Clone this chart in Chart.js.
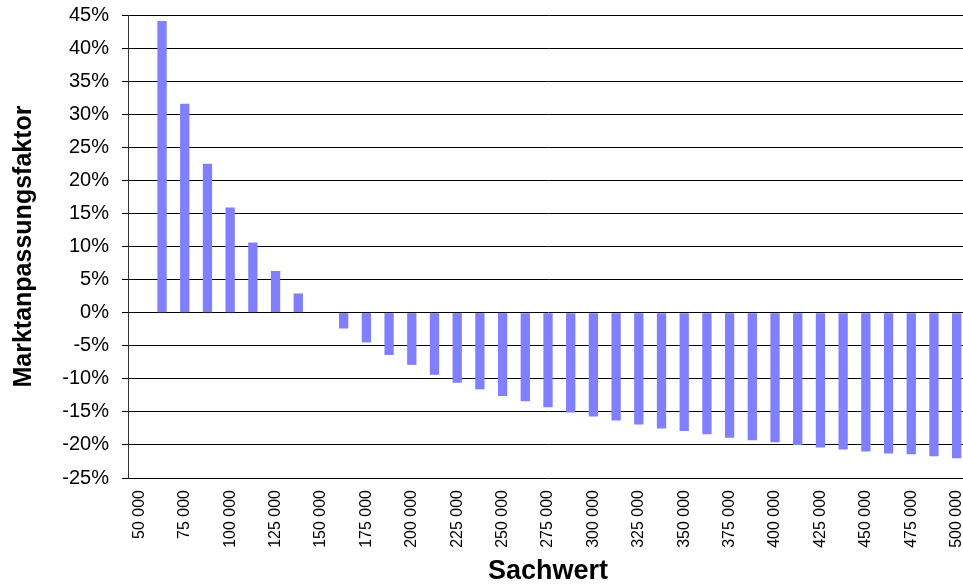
<!DOCTYPE html>
<html>
<head>
<meta charset="utf-8">
<script src="https://cdn.jsdelivr.net/npm/chart.js@4/dist/chart.umd.min.js"></script>
<style>
  html, body { margin: 0; padding: 0; background: #ffffff; overflow: hidden; width: 963px; height: 587px; }
  #wrap { width: 968px; height: 587px; position: relative; }
</style>
</head>
<body>
<div id="wrap"><canvas id="c" width="968" height="587"></canvas></div>
<script>
// Sachwert categories (every 12 500)
const categories = [
  '50 000','62 500','75 000','87 500','100 000','112 500','125 000','137 500','150 000',
  '162 500','175 000','187 500','200 000','212 500','225 000','237 500','250 000',
  '262 500','275 000','287 500','300 000','312 500','325 000','337 500','350 000',
  '362 500','375 000','387 500','400 000','412 500','425 000','437 500','450 000',
  '462 500','475 000','487 500','500 000'
];
// Marktanpassungsfaktor in percent
const faktor = [
  null, 44.1, 31.6, 22.5, 15.9, 10.6, 6.3, 2.9, 0,
  -2.4, -4.5, -6.4, -7.9, -9.4, -10.6, -11.6, -12.6,
  -13.4, -14.3, -15.1, -15.7, -16.3, -16.9, -17.5, -17.9,
  -18.4, -18.9, -19.3, -19.6, -20.0, -20.4, -20.7, -21.0,
  -21.3, -21.4, -21.7, -22.0
];
// Tick labels shown on the category axis
const tickLabels = [
  '50 000','75 000','100 000','125 000','150 000','175 000','200 000','225 000','250 000',
  '275 000','300 000','325 000','350 000','375 000','400 000','425 000','450 000','475 000','500 000'
];
const yMin = -25, yMax = 45, yStep = 5;

new Chart(document.getElementById('c'), {
  type: 'bar',
  data: {
    labels: categories,
    datasets: [{
      data: faktor,
      backgroundColor: '#8080FF',
      borderWidth: 0,
      categoryPercentage: 1.0,
      barPercentage: 0.41
    }]
  },
  options: {
    responsive: false,
    animation: false,
    layout: { padding: { top: 15, right: 0, bottom: 0, left: 0 } },
    plugins: { legend: { display: false }, tooltip: { enabled: false } },
    scales: {
      x: {
        type: 'category',
        offset: true,
        grid: { display: false, drawTicks: false },
        border: { display: false },
        ticks: {
          autoSkip: false,
          minRotation: 90,
          maxRotation: 90,
          padding: 12,
          color: '#000000',
          font: { family: "'Liberation Sans', Arial, sans-serif", size: 16 },
          callback: function (val, idx) {
            const lbl = categories[idx];
            return tickLabels.includes(lbl) ? lbl : '';
          }
        },
        title: {
          display: true,
          text: 'Sachwert',
          color: '#000000',
          font: { family: "'Liberation Sans', Arial, sans-serif", size: 27, weight: 'bold' },
          padding: { top: 0, bottom: -1 }
        },
        afterFit: function (s) { s.height = 109; s.paddingLeft = 0; s.paddingRight = 0; }
      },
      y: {
        min: yMin,
        max: yMax,
        grid: { color: '#000000', lineWidth: 1, tickLength: 6, drawTicks: true },
        border: { display: true, color: '#333333', width: 1 },
        ticks: {
          stepSize: yStep,
          padding: 13,
          color: '#000000',
          font: { family: "'Liberation Sans', Arial, sans-serif", size: 20 },
          callback: function (v) { return Math.round(v) + '%'; }
        },
        title: {
          display: true,
          text: 'Marktanpassungsfaktor',
          color: '#000000',
          font: { family: "'Liberation Sans', Arial, sans-serif", size: 25, weight: 'bold' },
          padding: { top: 9, bottom: 0 }
        },
        afterFit: function (s) { s.width = 128; s.paddingTop = 0; s.paddingBottom = 0; }
      }
    }
  }
});
</script>
</body>
</html>
